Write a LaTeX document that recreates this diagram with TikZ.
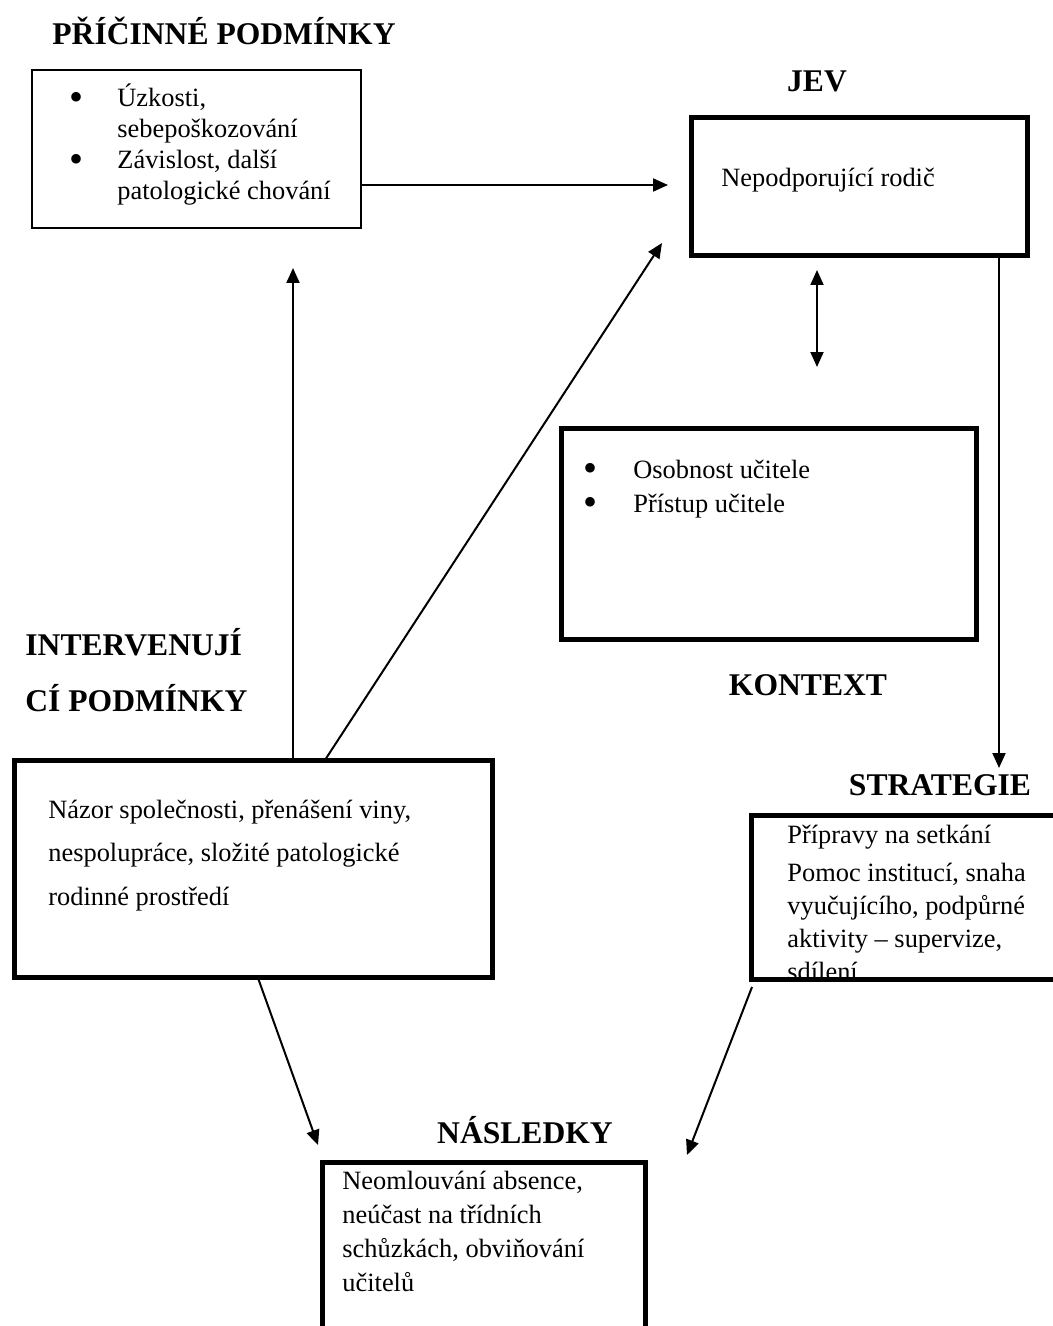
\documentclass[tikz,border=0pt]{standalone}
\usepackage{fontspec}
\setmainfont{Liberation Serif}
\usetikzlibrary{arrows.meta,fit}
\tikzset{
  thinbox/.style={draw, line width=1pt, inner sep=0pt},
  thickbox/.style={draw, line width=2.5pt, inner sep=0pt},
  heading/.style={font=\fontsize{15.8}{19}\selectfont\bfseries, inner sep=0pt, anchor=base},
  body/.style={inner sep=0pt, anchor=base west},
  conn/.style={line width=1pt, -{Triangle[length=7.5pt,width=6.5pt]}},
  dconn/.style={line width=1pt, {Triangle[length=7.5pt,width=6.5pt]}-{Triangle[length=7.5pt,width=6.5pt]}},
}
\newcommand{\bul}[1]{\leavevmode\llap{\smash{\raisebox{-1.6pt}{\fontsize{20}{20}\selectfont\textbullet}}\hspace{#1}}}
\begin{document}
\begin{tikzpicture}[x=0.5pt,y=-0.5pt]
\useasboundingbox (0,0) rectangle (1053,1326);
\fill[white] (0,0) rectangle (1053,1326);
\clip (0,0) rectangle (1053,1326);

% boxes
\node[thinbox, fit={(32,70) (361,228)}] (b1) {};
\node[thickbox, fit={(691,118) (1027,256)}] (jev) {};
\node[thickbox, fit={(561,428) (976,639)}] (kon) {};
\node[thickbox, fit={(14,760) (492,977)}] (int) {};
\node[thickbox, fit={(751,815) (1080,979)}] (str) {};
\node[thickbox, fit={(322,1162) (645,1345)}] (nas) {};

% headings
\node[heading] (h1) at (224,45) {PŘÍČINNÉ PODMÍNKY};
\node[heading] (h2) at (817,92) {JEV};
\node[heading] (h3) at (808,695) {KONTEXT};
\node[heading, anchor=base west] (h4) at (25,655) {\parbox[t]{250pt}{\baselineskip=28pt INTERVENUJÍ\\CÍ PODMÍNKY}};
\node[heading] (h5) at (940,795) {STRATEGIE};
\node[heading] (h6) at (525,1143) {NÁSLEDKY};

% texts
\node[body, font=\fontsize{13.2}{15.5}\selectfont] (t1) at (117,107) {\parbox[t]{130pt}{\raggedright
\bul{17pt}Úzkosti,\\sebepoškozování\\\bul{17pt}Závislost, další\\patologické chování}};
\node[body, font=\fontsize{13.2}{15.5}\selectfont] (t2) at (721,187) {Nepodporující rodič};
\node[body, font=\fontsize{13.2}{17}\selectfont] (t3) at (633,478) {\parbox[t]{150pt}{\raggedright
\bul{18pt}Osobnost učitele\\\bul{18pt}Přístup učitele}};
\node[body, font=\fontsize{13.2}{21.8}\selectfont] (t4) at (48,818) {\parbox[t]{220pt}{\raggedright
Názor společnosti, přenášení viny,\\nespolupráce, složité patologické\\rodinné prostředí}};
\node[body, font=\fontsize{13.2}{16.5}\selectfont] (t5) at (787,843) {\parbox[t]{140pt}{\raggedright
Přípravy na setkání\\[2.5pt]Pomoc institucí, snaha\\vyučujícího, podpůrné\\aktivity -- supervize,\\sdílení}};
\node[body, font=\fontsize{13.2}{17}\selectfont] (t6) at (342,1189) {\parbox[t]{150pt}{\raggedright
Neomlouvání absence,\\neúčast na třídních\\schůzkách, obviňování\\učitelů}};

% connector ends
\coordinate (jevIn) at (668,185);
\coordinate (upTip) at (293,268);
\coordinate (diagS) at (325,760);
\coordinate (diagT) at (662,243);
\coordinate (dA) at (817,270);
\coordinate (dB) at (817,367);
\coordinate (vdn) at (999,768);
\coordinate (intOut) at (258,978);
\coordinate (nasL) at (318,1145);
\coordinate (strOut) at (752,987);
\coordinate (nasR) at (687,1155);

% connectors
\draw[conn] (b1.east |- jevIn) -- (jevIn);
\draw[conn] (upTip |- int.north) -- (upTip);
\draw[conn] (diagS) -- (diagT);
\draw[dconn] (dA) -- (dB);
\draw[conn] (vdn |- jev.south) -- (vdn);
\draw[conn] (intOut) -- (nasL);
\draw[conn] (strOut) -- (nasR);
\end{tikzpicture}
\end{document}
